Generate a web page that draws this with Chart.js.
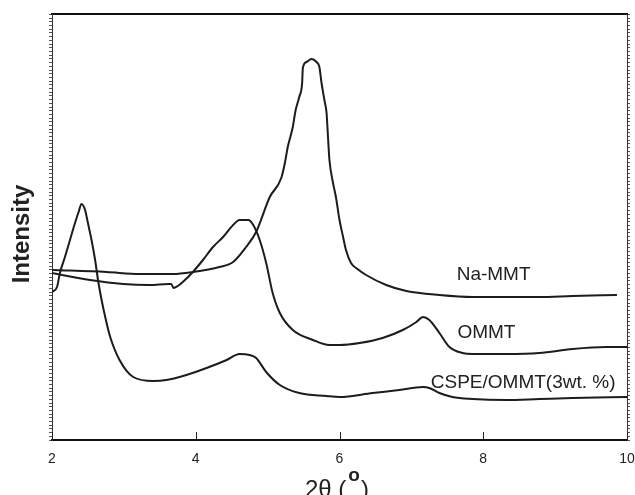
<!DOCTYPE html>
<html>
<head>
<meta charset="utf-8">
<title>XRD patterns</title>
<script src="https://cdn.jsdelivr.net/npm/chart.js@4.4.1/dist/chart.umd.min.js"></script>
<style>
    html, body { margin: 0; padding: 0; background: #fff; }
    #wrap { width: 635px; height: 495px; }
</style>
</head>
<body>
<div id="wrap"><canvas id="xrd" width="635" height="495"></canvas></div>
<script>
// 2θ (deg) and intensity (a.u.) for each pattern
const naTheta = [2.00, 2.76, 3.22, 3.68, 3.96, 4.33, 4.52, 4.70, 4.84, 5.03, 5.19, 5.24, 5.28, 5.35, 5.39, 5.44, 5.48, 5.49, 5.54, 5.61, 5.68, 5.72, 5.75, 5.79, 5.82, 5.84, 5.86, 5.91, 5.95, 6.00, 6.05, 6.09, 6.16, 6.25, 6.37, 6.65, 6.93, 7.39, 7.85, 8.32, 8.78, 9.24, 9.86];
const naInt   = [170, 168, 166, 166, 168, 173, 178, 193, 208, 243, 262, 277, 293, 313, 330, 343, 357, 372, 378, 381, 378, 373, 357, 340, 327, 303, 280, 257, 243, 220, 203, 190, 177, 171, 165, 155, 149, 145, 143, 143, 143, 144, 145];

const ommtTheta = [2.00, 2.53, 2.99, 3.36, 3.62, 3.66, 3.69, 3.75, 3.82, 3.96, 4.10, 4.24, 4.38, 4.52, 4.61, 4.73, 4.80, 4.89, 4.98, 5.07, 5.17, 5.35, 5.63, 5.86, 6.00, 6.28, 6.60, 6.88, 7.07, 7.16, 7.25, 7.39, 7.53, 7.71, 7.85, 8.32, 8.78, 9.24, 9.71, 10.0];
const ommtInt   = [167, 160, 156, 155, 156, 156, 152, 154, 158, 168, 180, 193, 203, 215, 220, 220, 215, 200, 177, 147, 127, 110, 100, 95, 95, 97, 102, 110, 118, 123, 120, 107, 93, 87, 86, 86, 87, 91, 93, 93];

const cspeTheta = [2.00, 2.07, 2.11, 2.18, 2.25, 2.32, 2.37, 2.41, 2.46, 2.50, 2.55, 2.60, 2.64, 2.69, 2.75, 2.81, 2.94, 3.13, 3.41, 3.59, 3.87, 4.15, 4.43, 4.61, 4.75, 4.84, 4.98, 5.17, 5.44, 5.82, 6.00, 6.46, 6.83, 7.16, 7.25, 7.39, 7.57, 7.85, 8.32, 8.78, 9.24, 10.0];
const cspeInt   = [148, 153, 167, 183, 200, 217, 228, 236, 230, 217, 200, 180, 160, 140, 120, 103, 80, 63, 59, 60, 65, 72, 80, 86, 85, 82, 68, 55, 47, 44, 43, 47, 50, 53, 52, 47, 43, 41, 40, 41, 42, 43];

// curve names, placed in data coordinates
const curveNames = ["Na-MMT", "OMMT", "CSPE/OMMT(3wt. %)"];
const nameTheta  = [7.63, 7.64, 7.27];
const nameInt    = [165, 107, 57.5];

const xTicks = [2, 4, 6, 8, 10];

const FONT = '"Liberation Sans", Arial, Helvetica, sans-serif';
Chart.defaults.font.family = FONT;

const toPoints = (xs, ys) => xs.map((v, i) => ({ x: v, y: ys[i] }));

const lineStyle = {
    borderColor: "#1c1c1c",
    borderWidth: 2,
    pointRadius: 0,
    fill: false,
    cubicInterpolationMode: "monotone",
};

// labels, inward ticks on the bottom axis and the two axis titles
const overlay = {
    id: "overlay",
    afterDraw(chart) {
        const { ctx, scales: { x, y } } = chart;
        ctx.save();

        ctx.strokeStyle = "#222";
        ctx.lineWidth = 1;
        x.ticks.forEach(t => {
            const px = Math.round(x.getPixelForValue(t.value)) + 0.5;
            ctx.beginPath();
            ctx.moveTo(px, y.bottom);
            ctx.lineTo(px, y.bottom - 8);
            ctx.stroke();
        });

        ctx.fillStyle = "#222";
        ctx.font = "19px " + FONT;
        ctx.textAlign = "left";
        ctx.textBaseline = "middle";
        curveNames.forEach((name, i) => {
            ctx.fillText(name, x.getPixelForValue(nameTheta[i]), y.getPixelForValue(nameInt[i]));
        });

        // x title: 2θ (°) with a raised bold "o"
        ctx.textBaseline = "alphabetic";
        let cx = 305;
        ctx.font = "24px " + FONT;
        ctx.fillText("2θ (", cx, 497);
        cx += ctx.measureText("2θ (").width + 2;
        ctx.font = "bold 19px " + FONT;
        ctx.fillText("o", cx, 481);
        cx += ctx.measureText("o").width + 1;
        ctx.font = "24px " + FONT;
        ctx.fillText(")", cx, 497);

        // y title
        ctx.translate(22, 234);
        ctx.rotate(-Math.PI / 2);
        ctx.font = "bold 24px " + FONT;
        ctx.textAlign = "center";
        ctx.textBaseline = "middle";
        ctx.fillText("Intensity", 0, 0);

        ctx.restore();
    }
};

const minorAxis = (position, width) => ({
    type: "linear",
    position,
    min: 0,
    max: 426,
    ticks: { display: false, stepSize: 3.7 },
    grid: { drawOnChartArea: false, drawTicks: true, tickLength: 3, tickColor: "#555", lineWidth: 1 },
    border: { display: true, width: 1, color: "#333" },
    afterFit: s => { s.width = width; },
});

new Chart(document.getElementById("xrd"), {
    type: "line",
    data: {
        datasets: [
            { label: "Na-MMT", data: toPoints(naTheta, naInt), ...lineStyle },
            { label: "OMMT", data: toPoints(ommtTheta, ommtInt), ...lineStyle },
            { label: "CSPE/OMMT(3wt. %)", data: toPoints(cspeTheta, cspeInt), ...lineStyle },
        ],
    },
    options: {
        responsive: false,
        animation: false,
        layout: { autoPadding: false, padding: { top: 14, left: 0, right: 0, bottom: 0 } },
        plugins: { legend: { display: false }, tooltip: { enabled: false } },
        scales: {
            x: {
                type: "linear",
                position: "bottom",
                min: 2,
                max: 10,
                afterBuildTicks: s => { s.ticks = xTicks.map(v => ({ value: v })); },
                ticks: { color: "#222", font: { size: 14 }, padding: 11, maxRotation: 0 },
                grid: { display: false, drawTicks: false },
                border: { display: true, width: 2, color: "#111" },
                // fixed height, and no extra room for the end labels
                afterFit: s => { s.height = 55; s.paddingLeft = 0; s.paddingRight = 0; },
            },
            x2: {
                type: "linear",
                position: "top",
                min: 2,
                max: 10,
                ticks: { display: false },
                grid: { display: false, drawTicks: false },
                border: { display: true, width: 2, color: "#111" },
                afterFit: s => { s.height = 0; s.paddingLeft = 0; s.paddingRight = 0; },
            },
            y: minorAxis("left", 52),
            y2: minorAxis("right", 8),
        },
    },
    plugins: [overlay],
});
</script>
</body>
</html>
